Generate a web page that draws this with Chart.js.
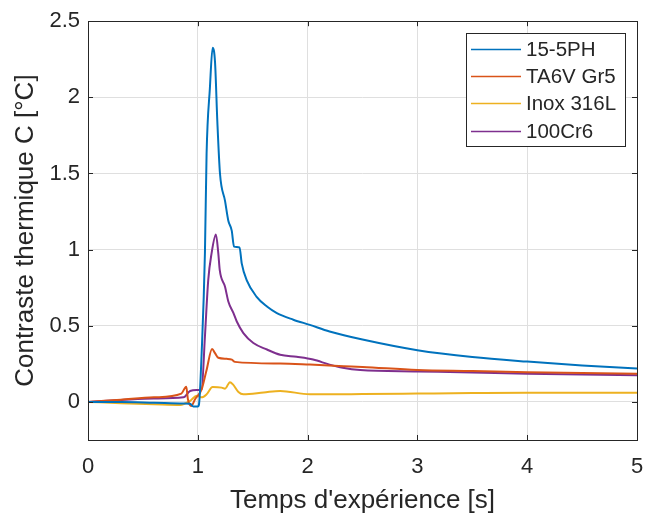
<!DOCTYPE html>
<html>
<head>
<meta charset="utf-8">
<script src="https://cdn.jsdelivr.net/npm/chart.js@4.4.1/dist/chart.umd.min.js"></script>
<style>
    html, body { margin: 0; padding: 0; background: #fff; }
    #wrap { width: 648px; height: 516px; }
</style>
</head>
<body>
<div id="wrap"><canvas id="thermoChart" width="648" height="516"></canvas></div>
<script>
// Series data (time in s, contrast in °C)
const labels = ['15-5PH', 'TA6V Gr5', 'Inox 316L', '100Cr6'];
const colors = ['#0072BD', '#D95319', '#EDB120', '#7E2F8E'];

const tBlue = [0, 0.3, 0.6, 0.87, 0.93, 0.96, 1.0, 1.01, 1.035, 1.065, 1.08, 1.11, 1.135, 1.157, 1.178, 1.202, 1.248, 1.278, 1.309, 1.33, 1.38, 1.40, 1.445, 1.536, 1.63, 1.72, 1.87, 2.02, 2.2, 2.5, 3, 3.5, 4, 4.5, 5];
const vBlue = [0, 0, -0.005, -0.01, -0.012, -0.03, -0.03, -0.02, 0.32, 0.98, 1.63, 2.06, 2.325, 2.23, 1.84, 1.50, 1.32, 1.19, 1.125, 1.02, 1.015, 0.91, 0.80, 0.69, 0.626, 0.583, 0.54, 0.506, 0.463, 0.41, 0.34, 0.295, 0.265, 0.24, 0.22];

const tOrange = [0, 0.3, 0.6, 0.85, 0.895, 0.91, 0.94, 0.975, 1.035, 1.08, 1.13, 1.157, 1.187, 1.264, 1.31, 1.338, 1.75, 2.02, 2.33, 2.5, 3, 3.5, 4, 4.5, 5];
const vOrange = [0, 0.015, 0.03, 0.055, 0.10, 0.018, -0.026, 0.018, 0.083, 0.21, 0.348, 0.32, 0.29, 0.283, 0.278, 0.263, 0.252, 0.245, 0.235, 0.23, 0.21, 0.203, 0.195, 0.19, 0.185];

const tYellow = [0, 0.3, 0.6, 0.84, 0.93, 0.99, 1.035, 1.08, 1.135, 1.217, 1.248, 1.293, 1.32, 1.37, 1.415, 1.6, 1.75, 2.02, 2.2, 2.5, 3, 3.5, 4, 4.5, 5];
const vYellow = [0, -0.008, -0.015, -0.02, 0.007, 0.04, 0.03, 0.05, 0.098, 0.094, 0.087, 0.13, 0.115, 0.065, 0.05, 0.062, 0.072, 0.05, 0.05, 0.052, 0.055, 0.058, 0.06, 0.06, 0.06];

const tPurple = [0, 0.3, 0.6, 0.87, 0.93, 0.99, 1.035, 1.065, 1.095, 1.125, 1.165, 1.187, 1.20, 1.248, 1.278, 1.325, 1.355, 1.415, 1.506, 1.63, 1.75, 1.90, 2.05, 2.2, 2.32, 2.48, 3, 3.5, 4, 4.5, 5];
const vPurple = [0, 0.012, 0.022, 0.03, 0.072, 0.078, 0.083, 0.43, 0.80, 0.974, 1.10, 0.974, 0.865, 0.756, 0.66, 0.583, 0.528, 0.452, 0.387, 0.344, 0.31, 0.296, 0.278, 0.245, 0.224, 0.209, 0.2, 0.193, 0.185, 0.18, 0.175];

const xTicks = [0, 1, 2, 3, 4, 5];
const yTicks = [0, 0.5, 1, 1.5, 2, 2.5];

const textColor = '#262626';
const fontFamily = '"Liberation Sans", Arial, sans-serif';

function toPoints(ts, vs) {
    return ts.map((t, i) => ({ x: t, y: vs[i] }));
}

const seriesPoints = [
    toPoints(tBlue, vBlue),
    toPoints(tOrange, vOrange),
    toPoints(tYellow, vYellow),
    toPoints(tPurple, vPurple)
];

// MATLAB-style box with inward ticks
const boxPlugin = {
    id: 'boxPlugin',
    afterDatasetsDraw(chart) {
        const ctx = chart.ctx;
        const a = chart.chartArea;
        const xs = chart.scales.x;
        const ys = chart.scales.y;
        ctx.save();
        ctx.strokeStyle = textColor;
        ctx.lineWidth = 1;
        ctx.beginPath();
        xTicks.forEach(v => {
            const px = Math.round(xs.getPixelForValue(v)) + 0.5;
            ctx.moveTo(px, a.bottom); ctx.lineTo(px, a.bottom - 5);
            ctx.moveTo(px, a.top); ctx.lineTo(px, a.top + 5);
        });
        yTicks.forEach(v => {
            const py = Math.round(ys.getPixelForValue(v)) + 0.5;
            ctx.moveTo(a.left, py); ctx.lineTo(a.left + 5, py);
            ctx.moveTo(a.right, py); ctx.lineTo(a.right - 5, py);
        });
        ctx.stroke();
        ctx.strokeRect(Math.round(a.left) + 0.5, Math.round(a.top) + 0.5,
            Math.round(a.right - a.left), Math.round(a.bottom - a.top));
        ctx.restore();
    }
};

// Legend box inside the plot, top right
const legendPlugin = {
    id: 'legendPlugin',
    afterDraw(chart) {
        const ctx = chart.ctx;
        const left = 466, top = 33, w = 159, h = 113;
        ctx.save();
        ctx.fillStyle = '#ffffff';
        ctx.fillRect(left, top, w, h);
        ctx.strokeStyle = textColor;
        ctx.lineWidth = 1;
        ctx.strokeRect(left + 0.5, top + 0.5, w, h);
        ctx.font = '20.5px ' + fontFamily;
        ctx.textBaseline = 'middle';
        chart.data.datasets.forEach((ds, i) => {
            const y = Math.round(top + 16 + i * 27.2) + 0.5;
            ctx.strokeStyle = ds.borderColor;
            ctx.lineWidth = 1.5;
            ctx.beginPath();
            ctx.moveTo(471, y); ctx.lineTo(521, y);
            ctx.stroke();
            ctx.fillStyle = textColor;
            ctx.fillText(ds.label, 526, y + 1);
        });
        ctx.restore();
    }
};

function createChart() {
    const ctx = document.getElementById('thermoChart').getContext('2d');

    new Chart(ctx, {
        type: 'line',
        data: {
            datasets: labels.map((name, i) => ({
                label: name,
                data: seriesPoints[i],
                borderColor: colors[i],
                backgroundColor: colors[i],
                borderWidth: 2,
                pointRadius: 0,
                fill: false,
                cubicInterpolationMode: 'monotone'
            }))
        },
        options: {
            responsive: false,
            animation: false,
            layout: { padding: { top: 20, right: 11, left: 0, bottom: 0 } },
            plugins: {
                legend: { display: false },
                tooltip: { enabled: false }
            },
            scales: {
                x: {
                    type: 'linear',
                    min: 0,
                    max: 5,
                    afterBuildTicks: scale => { scale.ticks = xTicks.map(v => ({ value: v })); },
                    afterFit: scale => {
                        scale.height = 76;
                        scale.paddingLeft = 0;
                        scale.paddingRight = 0;
                    },
                    grid: { color: '#dfdfdf', drawTicks: false },
                    border: { display: false },
                    ticks: {
                        color: textColor,
                        padding: 14,
                        font: { size: 22, family: fontFamily },
                        callback: v => String(v)
                    },
                    title: {
                        display: true,
                        text: "Temps d'expérience [s]",
                        color: textColor,
                        padding: { top: 0, bottom: 0 },
                        font: { size: 26, family: fontFamily }
                    }
                },
                y: {
                    type: 'linear',
                    min: -0.25,
                    max: 2.5,
                    afterBuildTicks: scale => { scale.ticks = yTicks.map(v => ({ value: v })); },
                    afterFit: scale => { scale.width = 88; },
                    grid: { color: '#dfdfdf', drawTicks: false },
                    border: { display: false },
                    ticks: {
                        color: textColor,
                        padding: 8,
                        font: { size: 22, family: fontFamily },
                        callback: v => String(v)
                    },
                    title: {
                        display: true,
                        text: 'Contraste thermique C [°C]',
                        color: textColor,
                        padding: { top: 10, bottom: 0 },
                        font: { size: 26, family: fontFamily }
                    }
                }
            }
        },
        plugins: [boxPlugin, legendPlugin]
    });
}

document.addEventListener('DOMContentLoaded', createChart);
</script>
</body>
</html>
